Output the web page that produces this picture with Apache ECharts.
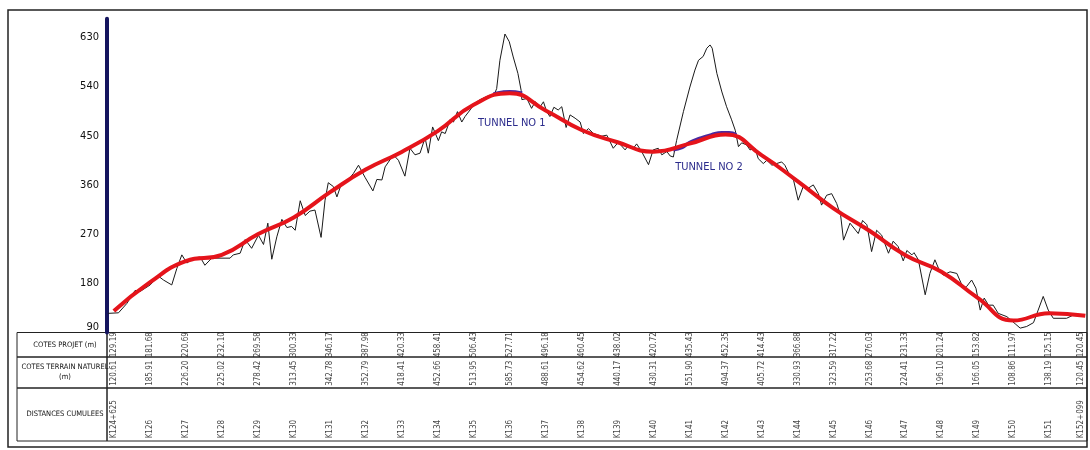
<!DOCTYPE html>
<html><head><meta charset="utf-8">
<script src="https://cdn.jsdelivr.net/npm/echarts@6/dist/echarts.min.js"></script>
<style>html,body{margin:0;padding:0;background:#fff}#c{width:1090px;height:450px}</style>
</head><body><div id="c"></div>
<script>
// ---- data ----
const stations = ['K124+625','K126','K127','K128','K129','K130','K131','K132','K133','K134','K135','K136','K137','K138','K139','K140','K141','K142','K143','K144','K145','K146','K147','K148','K149','K150','K151','K152+099'];
const projetLevels = [129.19,181.68,220.69,232.10,269.58,300.33,346.17,387.98,420.33,458.41,506.43,527.71,496.18,460.45,438.02,420.72,435.43,452.35,414.43,366.88,317.22,276.03,231.33,201.24,153.82,111.97,125.15,120.45];
const terrainLevels = [120.61,185.91,226.20,225.02,278.42,313.45,342.78,352.79,418.41,452.66,513.95,585.73,488.61,454.62,440.17,430.31,551.90,494.37,405.72,330.93,323.59,253.68,224.41,196.10,166.05,108.86,138.19,120.45];
const rowTitles = ['COTES PROJET (m)', 'COTES TERRAIN NATUREL\n(m)', 'DISTANCES CUMULEES'];
const yTickInterval = 90;
// terrain profile: [station index, elevation]
const terrainProfile = [
[-0.16,125],[0.13,126],[0.36,143],[0.59,167],[0.73,165],[0.87,171],[1.01,177],[1.24,193],[1.38,186],[1.61,177],[1.75,207],[1.89,232],[2.03,217],[2.21,226],[2.40,228],[2.53,213],[2.72,226],[3.09,226],[3.23,226],[3.32,232],[3.51,235],[3.65,260],[3.83,244],[4.02,268],[4.16,251],[4.28,290],[4.39,224],[4.53,265],[4.67,297],[4.81,282],[4.94,284],[5.04,277],[5.18,331],[5.32,304],[5.45,312],[5.59,314],[5.76,264],[5.87,332],[5.96,364],[6.10,357],[6.20,338],[6.33,363],[6.52,370],[6.66,381],
[6.80,396],[6.98,374],[7.20,349],[7.31,370],[7.45,369],[7.54,393],[7.77,415],[7.91,405],[8.09,376],[8.23,427],[8.37,415],[8.51,418],[8.65,446],[8.74,418],[8.86,466],[9.02,441],[9.11,457],[9.21,454],[9.35,480],[9.44,475],[9.55,494],[9.67,475],[9.76,485],[9.90,497],[10.04,510],[10.18,516],[10.31,520],[10.45,524],[10.55,522],[10.64,536],[10.73,588],[10.87,636],[10.99,622],[11.10,594],[11.23,564],[11.32,533],[11.34,516],[11.48,518],[11.61,500],[11.71,512],[11.85,503],[11.94,512],[12.03,494],[12.12,485],[12.23,502],[12.35,497],[12.45,503],[12.57,465],[12.68,488],[12.82,482],[12.96,475],[13.05,454],[13.19,463],[13.33,454],
[13.56,449],[13.70,451],[13.88,427],[14.02,438],[14.21,424],[14.30,432],[14.44,427],[14.53,435],[14.67,421],[14.86,397],[14.99,424],[15.13,427],[15.23,415],[15.37,421],[15.46,413],[15.55,411],[15.64,441],[15.83,494],[16.01,539],[16.15,570],[16.25,588],[16.38,595],[16.48,610],[16.57,616],[16.63,610],[16.76,564],[16.90,530],[17.03,503],[17.17,479],[17.27,460],[17.36,430],[17.45,437],[17.59,433],[17.68,424],[17.82,427],[17.91,408],[18.05,399],[18.15,405],[18.29,396],[18.42,399],[18.56,402],[18.65,396],[18.79,377],[18.89,369],[19.02,332],[19.16,357],[19.30,354],[19.44,360],[19.58,344],[19.67,323],[19.81,341],[19.95,344],[20.09,326],[20.20,304],[20.28,259],
[20.46,290],[20.69,271],[20.81,295],[20.93,287],[21.06,238],[21.20,277],[21.34,268],[21.53,235],[21.66,257],[21.80,247],[21.94,221],[22.04,240],[22.18,232],[22.24,236],[22.36,223],[22.55,159],[22.68,198],[22.82,223],[22.96,201],[23.05,195],[23.24,201],[23.43,198],[23.61,171],[23.70,174],[23.84,186],[23.96,171],[24.08,131],[24.19,153],[24.31,140],[24.44,140],[24.58,125],[24.82,119],[25.05,106],[25.19,98],[25.37,101],[25.56,108],[25.69,131],[25.83,156],[25.97,131],[26.11,116],[26.48,116],[26.67,122],[26.99,120]
];
// tunnel alignments (blue), traced
const tunnel1 = [[10.55,527],[10.8,530],[11.0,531],[11.2,530],[11.35,528]];
const tunnel2 = [[15.55,424],[15.8,428],[16.0,438],[16.3,446],[16.6,452],[16.9,456],[17.1,456],[17.3,452]];

// ---- layout / style ----
const NARROW = "'DejaVu Sans Condensed','Liberation Sans Narrow',sans-serif";
const X_MIN = -0.19, X_MAX = 27.047;
const rows = [{top:332.5,h:24.5},{top:357,h:31},{top:388,h:53}];
const DATA_LEFT = 107, DATA_RIGHT = 3, LBL_LEFT = 17, LBL_W = 90;

const grids = [{left:DATA_LEFT, right:DATA_RIGHT, top:18.7, bottom:450-332.5}];
rows.forEach(r => grids.push({left:DATA_LEFT, right:DATA_RIGHT, top:r.top, height:r.h, show:true, borderColor:'#222', borderWidth:1}));
rows.forEach(r => grids.push({left:LBL_LEFT, width:LBL_W, top:r.top, height:r.h, show:true, borderColor:'#222', borderWidth:1}));

const xAxes = grids.map((g,i) => ({type:'value', gridIndex:i, min:X_MIN, max:X_MAX, show:false}));
const yAxes = [{
  type:'value', gridIndex:0, min:90, max:664, interval:yTickInterval,
  axisLine:{show:true, onZero:false, lineStyle:{color:'#15155e', width:4}},
  axisTick:{show:false}, splitLine:{show:false},
  axisLabel:{showMaxLabel:false, verticalAlignMinLabel:'bottom', color:'#111', fontFamily:NARROW, fontSize:11, margin:8}
}];
rows.forEach((r,k) => yAxes.push({type:'value', gridIndex:1+k, min:0, max:1, show:false}));
rows.forEach((r,k) => yAxes.push({
  type:'category', gridIndex:4+k, data:[rowTitles[k]],
  axisLine:{show:false}, axisTick:{show:false},
  axisLabel:{inside:true, margin:48, align:'center', color:'#111', fontFamily:NARROW, fontSize:7.5, lineHeight:10}
}));

const tableText = [
  projetLevels.map(v => v.toFixed(2)),
  terrainLevels.map(v => v.toFixed(2)),
  stations
];
const anchorY = [0.5, 0.07, 0.05];
const tableSeries = tableText.map((arr,k) => ({
  type:'scatter', xAxisIndex:1+k, yAxisIndex:1+k, symbolSize:1, silent:true,
  itemStyle:{color:'transparent'},
  data: arr.map((t,i) => {
    const item = {value:[i, anchorY[k]], text:t};
    if (i === arr.length - 1) item.label = {verticalAlign:'bottom'};
    return item;
  }),
  label:{show:true, position:'inside', rotate:90, align: k===0 ? 'center' : 'left', verticalAlign:'middle',
    formatter: p => p.data.text, color:'#111', fontFamily:NARROW, fontSize:8}
}));

const option = {
  animation:false,
  backgroundColor:'#fff',
  grid: grids, xAxis: xAxes, yAxis: yAxes,
  graphic:[{type:'rect', shape:{x:8, y:10, width:1079, height:437}, style:{fill:'none', stroke:'#222', lineWidth:1.5}, silent:true}],
  series: [
    {type:'line', name:'Terrain naturel', xAxisIndex:0, yAxisIndex:0, data:terrainProfile, symbol:'none',
     lineStyle:{color:'#1a1a1a', width:1}, z:2,
     markPoint:{symbol:'circle', symbolSize:1, itemStyle:{color:'transparent'},
       label:{show:true, position:'inside', formatter:'{b}', color:'#2b2b8c', fontFamily:NARROW, fontSize:11},
       data:[{name:'TUNNEL NO 1', coord:[11.06,473]},{name:'TUNNEL NO 2', coord:[16.54,392]}]}},
    {type:'line', name:'Tunnel 1', data:tunnel1, symbol:'none', smooth:true, lineStyle:{color:'#4a2aa0', width:3}, z:3},
    {type:'line', name:'Tunnel 2', data:tunnel2, symbol:'none', smooth:true, lineStyle:{color:'#4a2aa0', width:3}, z:3},
    {type:'line', name:'Projet', data:projetLevels.map((v,i)=>[i,v]), symbol:'none', smooth:true,
     lineStyle:{color:'#e5141b', width:4}, z:4},
    ...tableSeries
  ]
};
const chart = echarts.init(document.getElementById('c'), null, {renderer:'canvas'});
chart.setOption(option);
</script></body></html>
